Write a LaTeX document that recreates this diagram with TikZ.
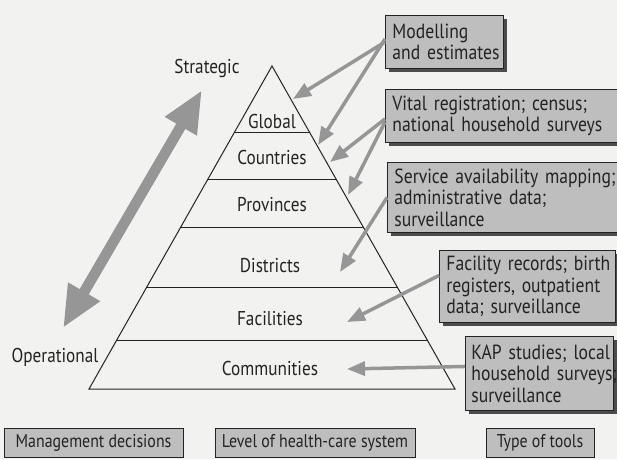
\documentclass[tikz,border=0pt]{standalone}
\usepackage{fontspec}
\setmainfont{PT Sans}[FakeStretch=0.86]
\usetikzlibrary{arrows.meta,calc,shadows}
\definecolor{paper}{RGB}{242,242,240}
\definecolor{boxfill}{RGB}{190,190,190}
\definecolor{arrowgray}{RGB}{150,150,150}
\definecolor{ink}{RGB}{35,35,35}
\begin{document}
\begin{tikzpicture}[x=1pt,y=-1pt,
  toolbox/.style={draw=ink, line width=0.9pt, fill=boxfill, anchor=north west,
    align=left, inner xsep=7pt, inner ysep=0pt, text=ink,
    font=\fontsize{20.5}{21.5}\selectfont,
    drop shadow={shadow xshift=4pt,shadow yshift=-4pt,fill=black!70,opacity=1}},
  labelbox/.style={draw=ink, line width=0.9pt, fill=boxfill, text=ink,
    font=\fontsize{18.5}{20}\selectfont, inner sep=0pt, minimum height=29pt},
  lvl/.style={font=\fontsize{20}{22}\selectfont, text=ink, anchor=base},
  side/.style={font=\fontsize{20}{22}\selectfont, text=ink, anchor=base},
  tier/.style={draw=ink, line width=1pt},
  feed/.style={draw=arrowgray, line width=3.5pt, -{Triangle[length=18pt,width=14pt]}},
  bigarrow/.style={draw=arrowgray, line width=10.5pt,
    {Triangle[length=42pt,width=34pt]}-{Triangle[length=42pt,width=34pt]}}]

\fill[paper] (0,0) rectangle (617,459);
\useasboundingbox (0,0) rectangle (617,459);

% pyramid
\coordinate (apex) at (272,66);
\coordinate (bl) at (89,389);
\coordinate (br) at (455,389);
\draw[tier, line join=miter] (apex) -- (bl) -- (br) -- cycle;
\foreach \t in {0.2074,0.3529,0.4985,0.6842,0.8483}
  \draw[tier] ($(apex)!\t!(bl)$) -- ($(apex)!\t!(br)$);

% level labels
\node[lvl] (global) at (272,128) {Global};
\node[lvl] (countries) at (272,164) {Countries};
\node[lvl] (provinces) at (272,211) {Provinces};
\node[lvl] (districts) at (270,272) {Districts};
\node[lvl] (facilities) at (270,325) {Facilities};
\node[lvl] (communities) at (270,375) {Communities};

\node[side] (strategic) at (207,73) {Strategic};
\node[side] (operational) at (55,362) {Operational};

% big double arrow
\coordinate (up) at (202,90);
\coordinate (down) at (63,328);
\draw[bigarrow] (down) -- (up);

% tool boxes
\node[toolbox, minimum height=53pt, text width=104pt] (mod) at (385,15)
  {\mbox{Modelling}\\\mbox{and estimates}};
\node[toolbox, minimum height=53pt, text width=230pt] (vital) at (385,89)
  {\mbox{Vital registration; census;}\\\mbox{national household surveys}};
\node[toolbox, minimum height=70pt, text width=230pt] (serv) at (387,162)
  {\mbox{Service availability mapping;}\\\mbox{administrative data;}\\\mbox{surveillance}};
\node[toolbox, minimum height=72pt, text width=162pt] (fac) at (439,250)
  {\mbox{Facility records; birth}\\\mbox{registers, outpatient}\\\mbox{data; surveillance}};
\node[toolbox, minimum height=74pt, text width=136pt, inner xsep=6pt] (kap) at (465,336)
  {\mbox{KAP studies; local}\\\mbox{household surveys;}\\\mbox{surveillance}};

% arrow targets
\coordinate (tGlobal) at (293,99);
\coordinate (tCountriesA) at (318,145);
\coordinate (tCountriesB) at (330,162);
\coordinate (tProvinces) at (348,195);
\coordinate (tDistricts) at (340,272);
\coordinate (tFacilities) at (347,322);
\coordinate (tCommunities) at (347,369);

\draw[feed] (mod.west) -- (tGlobal);
\draw[feed] ([yshift=3pt]mod.west) -- (tCountriesA);
\draw[feed] ([yshift=-3pt]vital.west) -- (tCountriesB);
\draw[feed] ([yshift=-6pt]vital.west) -- (tProvinces);
\draw[feed] (serv.west) -- (tDistricts);
\draw[feed] ([yshift=11pt]fac.west) -- (tFacilities);
\draw[feed] ([yshift=7pt]kap.west) -- (tCommunities);

% bottom captions
\node[labelbox, minimum width=179pt] (mgmt) at (93.5,442.5) {Management decisions};
\node[labelbox, minimum width=200pt] (levelsys) at (315,442.5) {Level of health-care system};
\node[labelbox, minimum width=108pt] (tooltype) at (540,442.5) {Type of tools};
\end{tikzpicture}
\end{document}
